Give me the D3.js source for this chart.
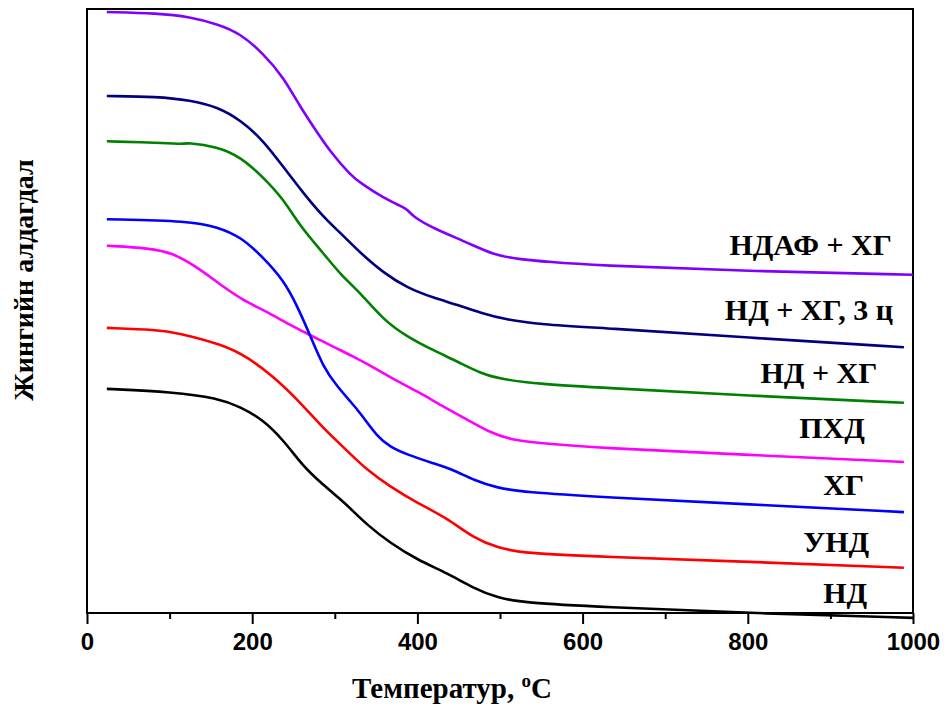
<!DOCTYPE html>
<html>
<head>
<meta charset="utf-8">
<script src="https://cdn.jsdelivr.net/npm/d3@7/dist/d3.min.js"></script>
<style>
  html, body { margin: 0; padding: 0; background: #fff; }
  svg { display: block; }
</style>
</head>
<body>
<svg id="chart" width="949" height="709"></svg>
<script>
// Thermogravimetric curves: relative mass (arbitrary, vertically offset) vs temperature, °C
const xTicksMajor = [0, 200, 400, 600, 800, 1000];
const xTicksMinor = [100, 300, 500, 700, 900];

const seriesNames = ["НДАФ + ХГ", "НД + ХГ, 3 ц", "НД + ХГ", "ПХД", "ХГ", "УНД", "НД"];
const seriesColors = ["#8000FF", "#000080", "#008000", "#FF00FF", "#0000FF", "#FF0000", "#000000"];

const ndafHg = [[24, 99.5], [85, 99.3], [125, 98.7], [158, 97.5], [185, 96.0], [213, 92.7], [238, 88.7],
  [258, 83.8], [279, 79.5], [295, 76.3], [319, 72.5], [331, 71.2], [359, 68.7], [381, 67.3], [388, 66.8],
  [395, 65.6], [419, 63.7], [461, 61.3], [492, 59.3], [521, 58.6], [561, 58.1], [610, 57.6], [800, 56.6], [1000, 56.0]];
const ndHg3 = [[24, 85.6], [85, 85.5], [125, 84.9], [158, 83.8], [186, 81.6], [213, 78.3], [238, 73.8],
  [262, 69.5], [286, 65.6], [307, 62.9], [331, 59.6], [359, 56.3], [388, 53.8], [419, 52.2], [449, 51.0],
  [476, 49.7], [509, 48.5], [549, 47.8], [622, 47.2], [800, 45.6], [989, 44.0]];
const ndHg = [[24, 78.1], [100, 77.8], [115, 77.6], [121, 77.9], [158, 77.2], [186, 75.5], [213, 72.2],
  [238, 68.5], [258, 64.0], [286, 59.6], [307, 56.0], [331, 53.0], [359, 48.5], [388, 45.7], [419, 43.5],
  [449, 41.6], [476, 39.7], [501, 38.7], [549, 37.9], [622, 37.3], [800, 36.0], [989, 34.8]];
const phd = [[24, 60.8], [76, 60.4], [104, 59.6], [133, 57.3], [165, 54.0], [189, 51.8], [213, 50.2],
  [246, 47.7], [270, 46.0], [307, 43.5], [319, 42.7], [347, 40.7], [379, 38.1], [404, 36.4],
  [428, 34.4], [461, 32.0], [489, 29.8], [516, 28.6], [549, 28.1], [622, 27.3], [800, 26.2], [989, 25.0]];
const hg = [[24, 65.2], [125, 64.9], [158, 63.9], [186, 62.3], [213, 58.9], [238, 55.1], [255, 50.7],
  [270, 46.0], [286, 40.7], [303, 37.5], [319, 35.0], [331, 33.1], [352, 29.1], [367, 27.5], [388, 26.2],
  [419, 24.8], [444, 23.7], [468, 22.0], [497, 20.7], [529, 20.0], [622, 19.2], [800, 18.0], [989, 16.7]];
const und = [[24, 47.2], [85, 46.9], [109, 46.4], [165, 44.4], [194, 42.4], [226, 39.1], [255, 35.3],
  [286, 30.6], [307, 27.9], [319, 26.3], [339, 23.7], [367, 20.9], [400, 18.2], [436, 15.7], [468, 12.4],
  [497, 10.8], [529, 9.9], [622, 9.3], [800, 8.5], [989, 7.5]];
const nd = [[24, 37.1], [104, 36.6], [158, 35.6], [186, 34.1], [213, 32.0], [238, 28.6], [262, 24.2],
  [286, 21.2], [307, 18.8], [319, 17.3], [339, 14.6], [367, 11.6], [400, 8.8], [436, 6.6], [468, 4.1],
  [497, 2.5], [529, 1.7], [622, 1.0], [800, 0.0], [1000, -0.8]];

const seriesData = [ndafHg, ndHg3, ndHg, phd, hg, und, nd];

// label anchor points (temperature, level) for the curve names
const labelPos = [[876, 59.3], [874, 48.5], [886, 38.1], [902, 29.0], [916, 19.5], [907, 10.1], [918, 1.7]];

const svg = d3.select("#chart");
const L = 87, R = 913, T = 9, B = 613;

const x = d3.scaleLinear().domain([0, 1000]).range([L, R]);
const y = d3.scaleLinear().domain([0, 100]).range([B, T]);

// frame
svg.append("rect")
  .attr("x", L).attr("y", T).attr("width", R - L).attr("height", B - T)
  .attr("fill", "none").attr("stroke", "#000").attr("stroke-width", 2);

// bottom axis with major and minor ticks
const axisG = svg.append("g").attr("transform", `translate(0,${B})`);
axisG.call(d3.axisBottom(x).tickValues(xTicksMajor).tickSize(11).tickPadding(9).tickFormat(d3.format("d")));
axisG.append("g").call(d3.axisBottom(x).tickValues(xTicksMinor).tickSize(6).tickFormat(""));
axisG.selectAll(".domain").remove();
axisG.selectAll("line").attr("stroke", "#000").attr("stroke-width", 2);
axisG.selectAll("text")
  .attr("fill", "#000")
  .style("font-family", "'Liberation Sans', Arial, sans-serif")
  .style("font-weight", "bold")
  .style("font-size", "24px");

// curves
const line = d3.line().x(d => x(d[0])).y(d => y(d[1])).curve(d3.curveBasis);
svg.append("g").selectAll("path")
  .data(seriesData)
  .join("path")
  .attr("d", line)
  .attr("fill", "none")
  .attr("stroke", (d, i) => seriesColors[i])
  .attr("stroke-width", 2.6)
  .attr("stroke-linejoin", "round");

// curve names
svg.append("g").selectAll("text")
  .data(seriesNames)
  .join("text")
  .attr("x", (d, i) => x(labelPos[i][0]))
  .attr("y", (d, i) => y(labelPos[i][1]))
  .attr("text-anchor", "middle")
  .style("font-family", "'Liberation Serif', 'Times New Roman', serif")
  .style("font-weight", "bold")
  .style("font-size", "30px")
  .text(d => d);

// axis titles
const xt = svg.append("text")
  .attr("x", 452).attr("y", 698)
  .attr("text-anchor", "middle")
  .style("font-family", "'Liberation Serif', 'Times New Roman', serif")
  .style("font-weight", "bold")
  .style("font-size", "29px");
xt.append("tspan").text("Температур, ");
xt.append("tspan").attr("dy", -11).style("font-size", "19px").text("o");
xt.append("tspan").attr("dy", 11).text("C");

svg.append("text")
  .attr("transform", "translate(33,280) rotate(-90)")
  .attr("text-anchor", "middle")
  .style("font-family", "'Liberation Serif', 'Times New Roman', serif")
  .style("font-weight", "bold")
  .style("font-size", "28px")
  .text("Жингийн алдагдал");
</script>
</body>
</html>
